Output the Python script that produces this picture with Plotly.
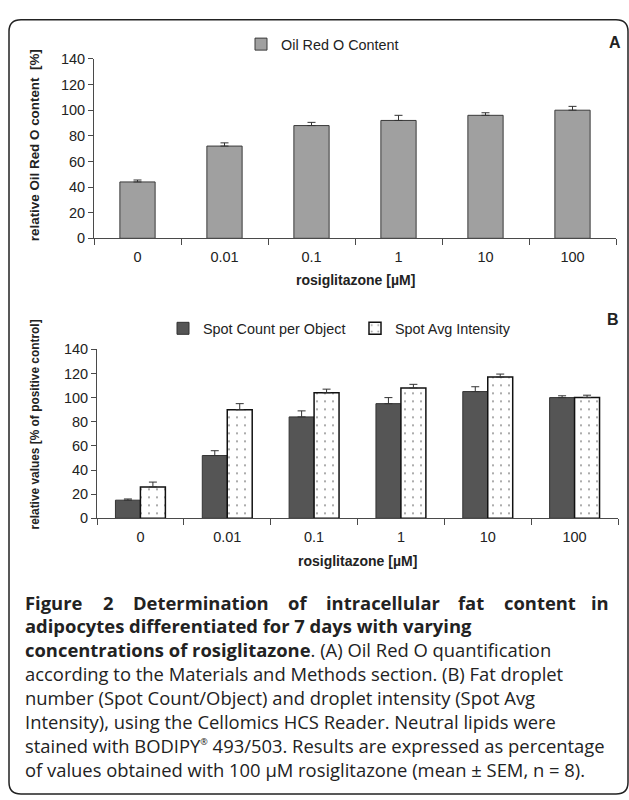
import plotly.graph_objects as go

W, H = 629, 800

# Data
concentrations = ["0", "0.01", "0.1", "1", "10", "100"]
oil_red_o = [44, 72, 88, 92, 96, 100]
oil_red_o_sem = [1.5, 2.5, 2.5, 4, 2, 3]
spot_count = [15, 52, 84, 95, 105, 100]
spot_count_sem = [1, 4, 5, 5, 4, 1.5]
spot_intensity = [26, 90, 104, 108, 117, 100]
spot_intensity_sem = [4, 5, 3, 3, 2.5, 2]
y_ticks = [0, 20, 40, 60, 80, 100, 120, 140]


def px(x):
    return x / W


def py(y):
    return 1 - y / H


AXIS_COLOR = "#4a4a4a"
TEXT_COLOR = "#222222"
CHART_FONT = "Liberation Sans, Arial, sans-serif"
CAPTION_FONT = "Open Sans, sans-serif"

no_minus = [0] * len(concentrations)

fig = go.Figure()

# Panel A: Oil Red O content
fig.add_trace(go.Bar(
    x=concentrations, y=oil_red_o, name="Oil Red O Content",
    xaxis="x", yaxis="y", legend="legend", showlegend=True,
    width=0.405,
    marker=dict(color="#a0a0a0", line=dict(color="#3a3a3a", width=1)),
    error_y=dict(type="data", array=oil_red_o_sem, arrayminus=no_minus,
                 symmetric=False, color="#333333", thickness=1, width=4),
))

# Panel B: spot count and spot intensity
fig.add_trace(go.Bar(
    x=concentrations, y=spot_count, name="Spot Count per Object",
    xaxis="x2", yaxis="y2", legend="legend2", showlegend=True,
    width=0.2875, offset=-0.2875,
    marker=dict(color="#555555", line=dict(color="#333333", width=1)),
    error_y=dict(type="data", array=spot_count_sem, arrayminus=no_minus,
                 symmetric=False, color="#333333", thickness=1, width=4),
))
fig.add_trace(go.Bar(
    x=concentrations, y=spot_intensity, name="Spot Avg Intensity",
    xaxis="x2", yaxis="y2", legend="legend2", showlegend=True,
    width=0.2875, offset=0,
    marker=dict(color="white", line=dict(color="#111111", width=1.5),
                pattern=dict(shape=".", fgcolor="#222222", bgcolor="white",
                             size=8, solidity=0.05)),
    error_y=dict(type="data", array=spot_intensity_sem, arrayminus=no_minus,
                 symmetric=False, color="#333333", thickness=1, width=4),
))

xaxis_common = dict(
    type="category", range=[-0.5, 5.5], tickson="boundaries",
    ticks="outside", ticklen=6, tickcolor=AXIS_COLOR, tickwidth=1,
    showline=True, linecolor=AXIS_COLOR, linewidth=1,
    showgrid=False, zeroline=False, fixedrange=True,
    tickfont=dict(family=CHART_FONT, size=14.5, color=TEXT_COLOR),
    ticklabelstandoff=5,
)
yaxis_common = dict(
    range=[0, 140], tickvals=y_ticks,
    ticks="outside", ticklen=5, tickcolor=AXIS_COLOR, tickwidth=1,
    showline=True, linecolor=AXIS_COLOR, linewidth=1,
    showgrid=False, zeroline=False, fixedrange=True,
    tickfont=dict(family=CHART_FONT, size=14.5, color=TEXT_COLOR),
)

legend_common = dict(
    orientation="h", yanchor="middle", xanchor="left",
    bgcolor="rgba(0,0,0,0)", borderwidth=0,
    font=dict(family=CHART_FONT, size=14.4, color=TEXT_COLOR),
    itemclick=False, itemdoubleclick=False,
)

fig.update_layout(
    width=W, height=H,
    margin=dict(l=0, r=0, t=0, b=0),
    paper_bgcolor="white", plot_bgcolor="white",
    barmode="group", showlegend=True,
    xaxis=dict(domain=[px(94), px(616)], anchor="y", **xaxis_common),
    yaxis=dict(domain=[py(235), py(52)], anchor="x", **yaxis_common),
    xaxis2=dict(domain=[px(97), px(618)], anchor="y2", **xaxis_common),
    yaxis2=dict(domain=[py(520.7), py(348.3)], anchor="x2", **yaxis_common),
    legend=dict(x=px(241), y=py(37), **legend_common),
    legend2=dict(x=px(163), y=py(327), entrywidth=147, entrywidthmode="pixels",
                 **legend_common),
)

annotations = []


def label(text, x, y, size, bold=False, angle=0, xanchor="center",
          family=CHART_FONT, align="center"):
    annotations.append(dict(
        text=f"<b>{text}</b>" if bold else text,
        x=px(x), y=py(y), xref="paper", yref="paper",
        xanchor=xanchor, yanchor="middle", showarrow=False,
        textangle=angle, align=align,
        font=dict(family=family, size=size, color=TEXT_COLOR),
    ))


# Panel letters
label("A", 615, 35, 16, bold=True)
label("B", 613, 318, 16, bold=True)

# Axis titles
label("relative Oil Red O content  [%]", 34, 140, 13.4, bold=True, angle=-90)
label("rosiglitazone [µM]", 355, 278, 14, bold=True)
label("relative values [% of positive control]", 34, 425, 11.9, bold=True, angle=-90)
label("rosiglitazone [µM]", 357, 564, 14, bold=True)

# Caption: first line justified word by word across the text block
caption_size = 18.4
line_gap = caption_size * 1.3
first_y = 607
first_line = ["Figure", "2", "Determination", "of", "intracellular", "fat", "content"]
first_line_x = [23, 101, 131, 286, 324, 456, 502]
for word, wx in zip(first_line, first_line_x):
    label(word, wx, first_y, caption_size, bold=True, xanchor="left",
          family=CAPTION_FONT)
label("in", 611, first_y, caption_size, bold=True, xanchor="right",
      family=CAPTION_FONT)

caption_lines = [
    "<b>adipocytes differentiated for 7 days with varying</b>",
    "<b>concentrations of rosiglitazone</b>. (A) Oil Red O quantification",
    "according to the Materials and Methods section. (B) Fat droplet",
    "number (Spot Count/Object) and droplet intensity (Spot Avg",
    "Intensity), using the Cellomics HCS Reader. Neutral lipids were",
    "stained with BODIPY<sup><span style=\"font-size:9px\">®</span></sup>"
    " 493/503. Results are expressed as percentage",
    "of values obtained with 100 µM rosiglitazone (mean ± SEM, n = 8).",
]
block_center = first_y + 0.7 + line_gap * (1 + (len(caption_lines) - 1) / 2)
label("<br>".join(caption_lines), 23, block_center, caption_size,
      xanchor="left", family=CAPTION_FONT, align="left")

fig.update_layout(annotations=annotations)

# Rounded frame around the figure
x0, x1, y0, y1, r = 9, 628, 12, 802, 12
frame = (
    f"M {px(x0)},{py(y0 + r)} Q {px(x0)},{py(y0)} {px(x0 + r)},{py(y0)} "
    f"L {px(x1 - r)},{py(y0)} Q {px(x1)},{py(y0)} {px(x1)},{py(y0 + r)} "
    f"L {px(x1)},{py(y1 - r)} Q {px(x1)},{py(y1)} {px(x1 - r)},{py(y1)} "
    f"L {px(x0 + r)},{py(y1)} Q {px(x0)},{py(y1)} {px(x0)},{py(y1 - r)} Z"
)
fig.add_shape(type="path", path=frame, xref="paper", yref="paper",
              line=dict(color="#222222", width=1.5), layer="above")

fig.write_html("out.html")
